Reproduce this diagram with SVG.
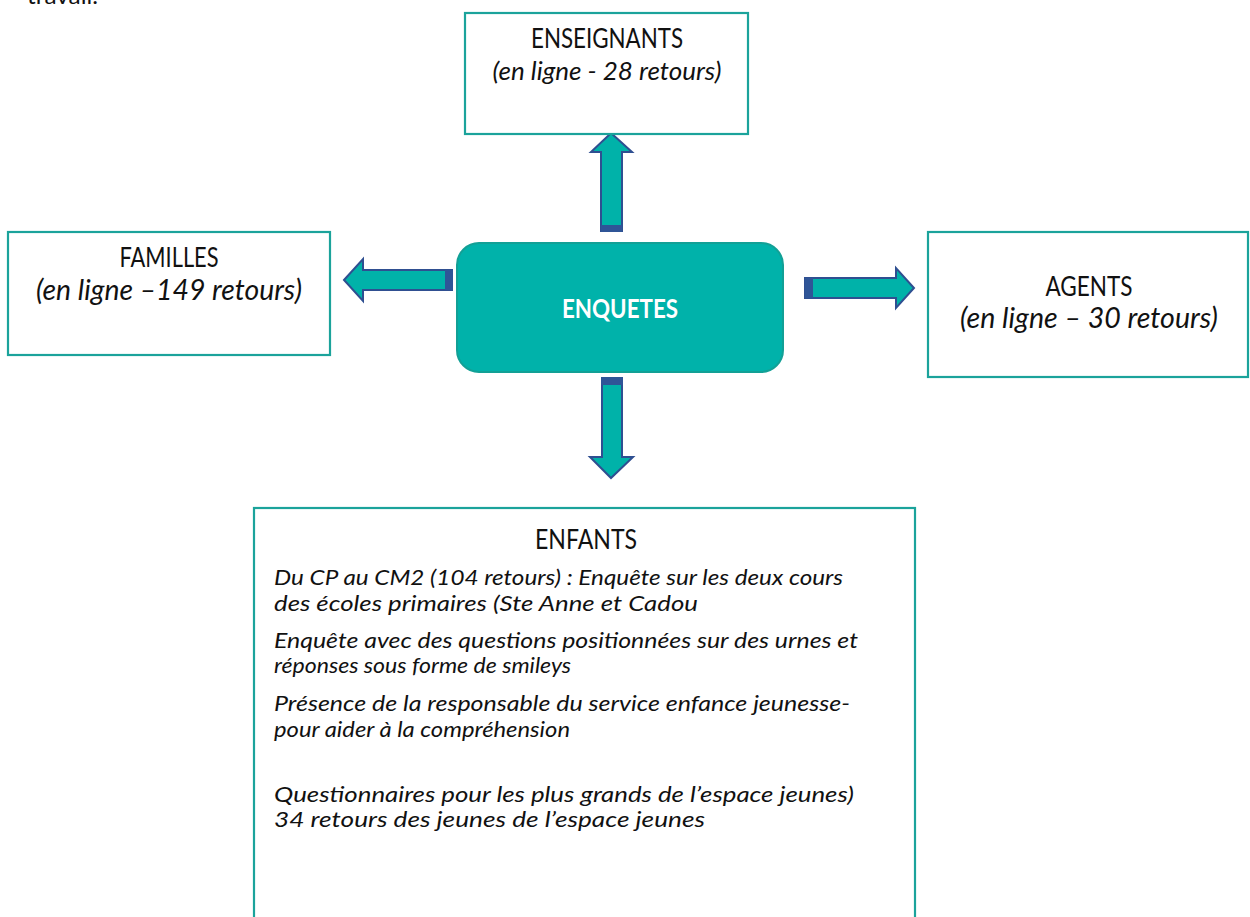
<svg xmlns="http://www.w3.org/2000/svg" width="1250" height="917" viewBox="0 0 1250 917">
<style>
.box{fill:#fff;stroke:#1BA39B;stroke-width:2.2}
.t{font-family:Lato,"Open Sans","Liberation Sans",sans-serif;fill:#111}
.ti{font-size:26px;text-anchor:middle}
.sub{font-size:28px;text-anchor:middle;font-style:italic}
.body{font-size:21.5px;font-style:italic}
.arr{fill:#00B2A9;stroke:#2F4F91;stroke-width:2;stroke-linejoin:miter}
.cap{fill:#2F5597}
</style>
<rect width="1250" height="917" fill="#fff"/>
<text class="t" x="27" y="4" font-size="24" textLength="71" lengthAdjust="spacingAndGlyphs">travail.</text>

<g id="connectors">
  <polygon class="arr" points="611,133 632,152 622,152 622,231 601,231 601,152 591,152"/>
  <rect class="cap" x="601" y="225" width="21" height="7"/>
  <polygon class="arr" points="344,280 363,259 363,270 452,270 452,290 363,290 363,301"/>
  <rect class="cap" x="445" y="270" width="8" height="20"/>
  <polygon class="arr" points="805,278 896,278 896,268 914,288 896,308 896,298 805,298"/>
  <rect class="cap" x="805" y="278" width="8" height="20"/>
  <polygon class="arr" points="602,378 622,378 622,457 633,457 611,478 590,457 602,457"/>
  <rect class="cap" x="601" y="377" width="22" height="8"/>
</g>

<g id="enquetes">
  <rect x="457" y="243" width="326" height="129" rx="22" fill="#00B2AA" stroke="#12A096" stroke-width="2"/>
  <text class="t" x="620" y="318" font-size="27" font-weight="bold" style="fill:#fff" text-anchor="middle" textLength="116" lengthAdjust="spacingAndGlyphs">ENQUETES</text>
</g>

<g id="enseignants">
  <rect class="box" x="465" y="13" width="283" height="121"/>
  <text class="t ti" x="607" y="48" textLength="152" lengthAdjust="spacingAndGlyphs">ENSEIGNANTS</text>
  <text class="t sub" x="607" y="80" style="font-size:26px" textLength="229" lengthAdjust="spacingAndGlyphs">(en ligne - 28 retours)</text>
</g>

<g id="familles">
  <rect class="box" x="8" y="232" width="322" height="123"/>
  <text class="t ti" x="169" y="267" textLength="99" lengthAdjust="spacingAndGlyphs">FAMILLES</text>
  <text class="t sub" x="169" y="300" textLength="266" lengthAdjust="spacingAndGlyphs">(en ligne –149 retours)</text>
</g>

<g id="agents">
  <rect class="box" x="928" y="232" width="320" height="145"/>
  <text class="t ti" x="1089" y="296" textLength="87" lengthAdjust="spacingAndGlyphs">AGENTS</text>
  <text class="t sub" x="1089" y="328" textLength="258" lengthAdjust="spacingAndGlyphs">(en ligne – 30 retours)</text>
</g>

<g id="enfants">
  <rect class="box" x="254" y="508" width="661" height="430"/>
  <text class="t ti" x="586" y="549" style="font-size:27px" textLength="102" lengthAdjust="spacingAndGlyphs">ENFANTS</text>
  <text class="t body" x="274" y="585" textLength="569" lengthAdjust="spacingAndGlyphs">Du CP au CM2 (104 retours) : Enquête sur les deux cours</text>
  <text class="t body" x="274" y="611" textLength="424" lengthAdjust="spacingAndGlyphs">des écoles primaires (Ste Anne et Cadou</text>
  <text class="t body" x="274" y="648" textLength="584" lengthAdjust="spacingAndGlyphs">Enquête avec des questions positionnées sur des urnes et</text>
  <text class="t body" x="274" y="673" textLength="297" lengthAdjust="spacingAndGlyphs">réponses sous forme de smileys</text>
  <text class="t body" x="274" y="711" textLength="576" lengthAdjust="spacingAndGlyphs">Présence de la responsable du service enfance jeunesse-</text>
  <text class="t body" x="274" y="737" textLength="296" lengthAdjust="spacingAndGlyphs">pour aider à la compréhension</text>
  <text class="t body" x="274" y="802" textLength="580" lengthAdjust="spacingAndGlyphs">Questionnaires pour les plus grands de l’espace jeunes)</text>
  <text class="t body" x="274" y="827" textLength="431" lengthAdjust="spacingAndGlyphs">34 retours des jeunes de l’espace jeunes</text>
</g>
</svg>
